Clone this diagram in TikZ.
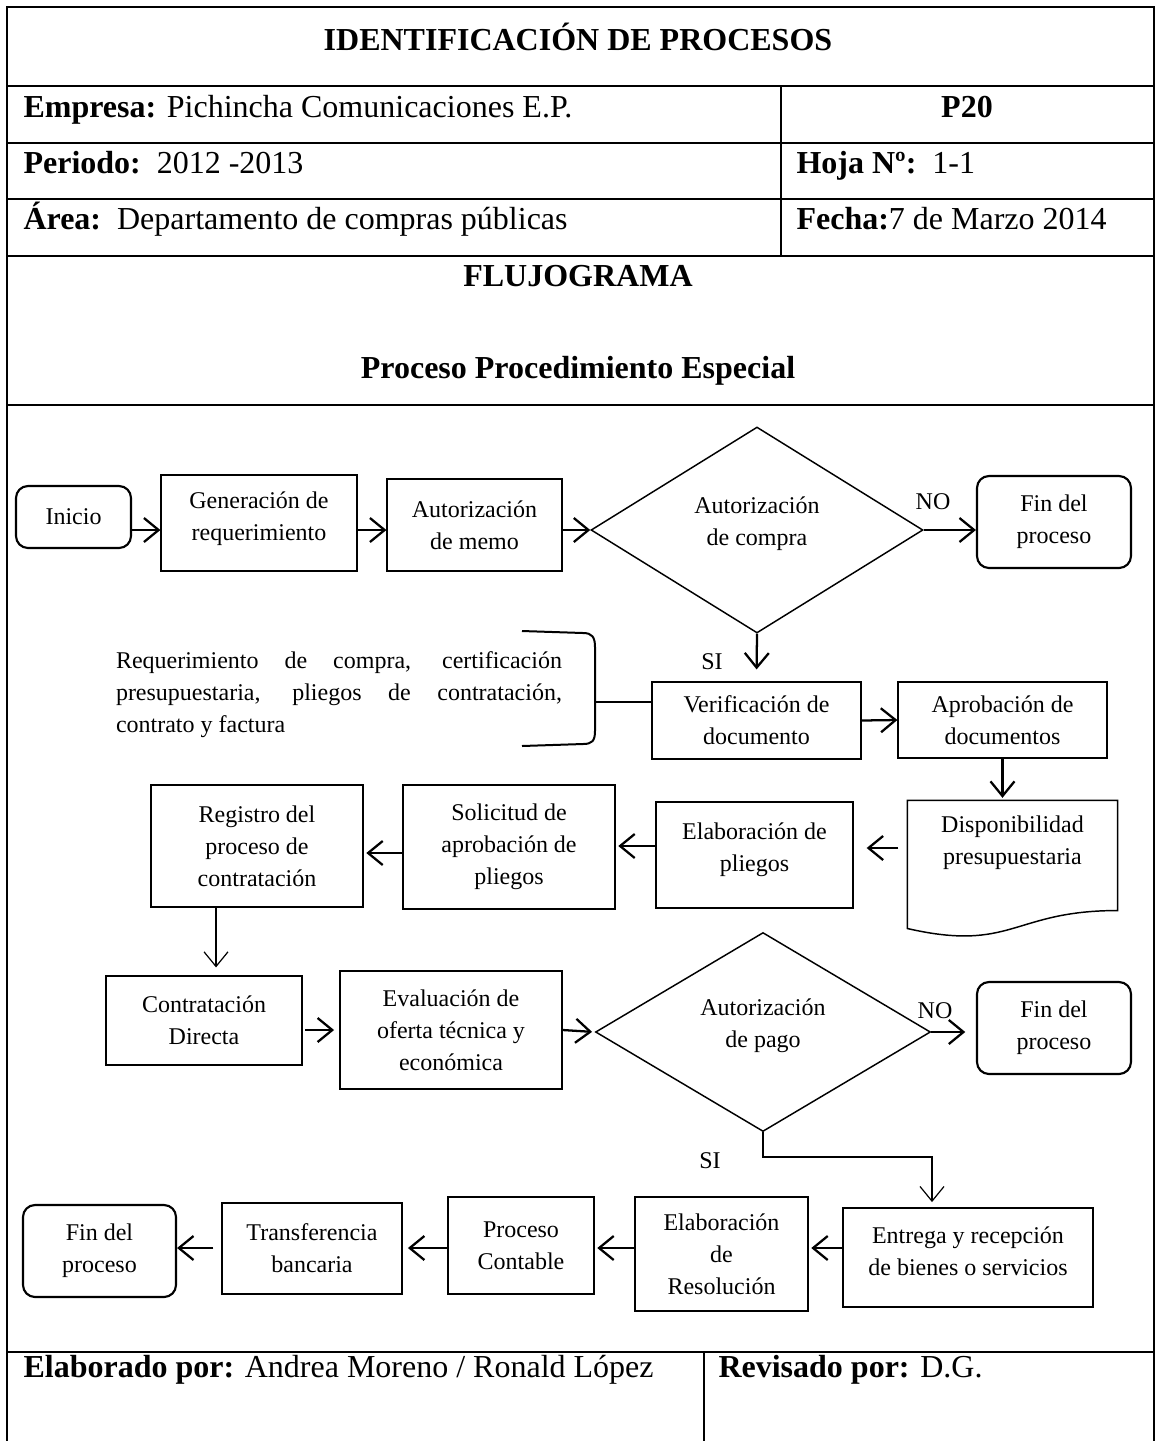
\documentclass[tikz,border=0pt]{standalone}
\usepackage{fontspec}
\setmainfont{Liberation Serif}
\usetikzlibrary{arrows.meta,shapes.geometric,calc}
\def\pxu{0.375pt} % one pixel of the sheet
\tikzset{
    sz/.style 2 args={minimum width={#1*\pxu}, minimum height={#2*\pxu}},
    proc/.style={draw, rectangle, inner sep=0pt, line width=0.45pt, align=center},
    term/.style={draw, rectangle, rounded corners=4.5pt, inner sep=0pt, line width=0.8pt, align=center},
    deci/.style={draw, diamond, inner sep=0pt, line width=0.55pt, align=center, text depth=7pt},
    arr/.style={line width=0.85pt, -{Straight Barb[length=5.5pt,width=9pt]}},
    thinarr/.style={line width=0.45pt, -{Straight Barb[length=5.5pt,width=9pt]}},
    frame/.style={line width=1.1pt},
    hd/.style={font=\fontsize{12}{14}\selectfont, inner sep=0pt}
}
\begin{document}
\begin{tikzpicture}[x=\pxu, y=-\pxu, font=\fontsize{9}{12}\selectfont]
\useasboundingbox (0,0) rectangle (1155,1441);

% table frame
\draw[frame] (7,1441) -- (7,7) -- (1154,7) -- (1154,1441);
\foreach \yy in {86,143,199,256,405,1352}{
    \draw[frame] (7,\yy) -- (1154,\yy);
    }
\draw[frame] (781,86) -- (781,256);
\draw[frame] (704,1352) -- (704,1441);

% header and footer texts
\node[hd, anchor=base] (titulo) at (578,50) {\textbf{IDENTIFICACIÓN DE PROCESOS}};
\node[hd, anchor=base west] (empresa) at (23,117) {\textbf{Empresa:} Pichincha Comunicaciones E.P.};
\node[hd, anchor=base] (codigo) at (967,117) {\textbf{P20}};
\node[hd, anchor=base west] (periodo) at (23,173) {\textbf{Periodo:}\ \ 2012 -2013};
\node[hd, anchor=base west] (hoja) at (796,173) {\textbf{Hoja Nº:}\ \ 1-1};
\node[hd, anchor=base west] (area) at (23,229) {\textbf{Área:}\ \ Departamento de compras públicas};
\node[hd, anchor=base west] (fecha) at (796,229) {\textbf{Fecha:}7 de Marzo 2014};
\node[hd, anchor=base] (flujo) at (578,286) {\textbf{FLUJOGRAMA}};
\node[hd, anchor=base] (proceso) at (578,378) {\textbf{Proceso Procedimiento Especial}};
\node[hd, anchor=base west] (elaborado) at (23,1377) {\textbf{Elaborado por:} Andrea Moreno / Ronald López};
\node[hd, anchor=base west] (revisado) at (718,1377) {\textbf{Revisado por:} D.G.};

% flow chart
\node[term, sz={115}{62}] (inicio) at (73.5,517) {Inicio};
\node[proc, sz={196}{96}, text depth=5pt] (gen) at (259,523) {Generación de\\requerimiento};
\node[proc, sz={175}{92}] (memo) at (474.5,525) {Autorización\\de memo};
\node[deci, sz={332}{206}] (dcompra) at (757,530) {Autorización\\de compra};
\node[term, sz={154}{92}] (fin1) at (1054,522) {Fin del\\proceso};
\node[proc, sz={209}{77}] (verif) at (756.5,720.5) {Verificación de\\documento};
\node[proc, sz={209}{76}] (aprob) at (1002.5,720) {Aprobación de\\documentos};
\node[inner sep=0pt, text width=167.25pt, align=justify] (docs) at (339,695)
    {\tolerance=9999 \hyphenpenalty=10000 Requerimiento de compra, certificación\linebreak
     presupuestaria,  pliegos de contratación,\linebreak contrato y factura};
\node[inner sep=0pt, sz={209}{84}, align=center] (dispo) at (1012.5,843) {Disponibilidad\\presupuestaria};
\node[proc, sz={197}{106}, text depth=6pt] (elab) at (754.5,855) {Elaboración de\\pliegos};
\node[proc, sz={212}{124}] (solic) at (509,847) {Solicitud de\\aprobación de\\pliegos};
\node[proc, sz={212}{122}] (reg) at (257,846) {Registro del\\proceso de\\contratación};
\node[proc, sz={196}{89}] (cdir) at (204,1020.5) {Contratación\\Directa};
\node[proc, sz={222}{118}] (eval) at (451,1030) {Evaluación de\\oferta técnica y\\económica};
\node[deci, sz={335}{199}] (dpago) at (763,1032) {Autorización\\de pago};
\node[term, sz={154}{92}] (fin2) at (1054,1028) {Fin del\\proceso};
\node[proc, sz={250}{99}, text depth=5pt] (entrega) at (968,1257.5) {Entrega y recepción\\de bienes o servicios};
\node[proc, sz={173}{114}] (eres) at (721.5,1254) {Elaboración\\de\\Resolución};
\node[proc, sz={146}{97}] (pcont) at (521,1245.5) {Proceso\\Contable};
\node[proc, sz={180}{91}] (transf) at (312,1248.5) {Transferencia\\bancaria};
\node[term, sz={153}{92}] (fin3) at (99.5,1251) {Fin del\\proceso};

\node (no1) at (933,502) {NO};
\node (si1) at (712,662) {SI};
\node (no2) at (935,1011) {NO};
\node (si2) at (710,1161) {SI};

% document shape and bracket
\draw[line width=0.55pt] (dispo.south west) -- (dispo.north west) -- (dispo.north east)
    -- ($(dispo.south east)+(0,25)$) .. controls ($(dispo.south)+(0,25)$) and ($(dispo.south)+(0,67)$) .. ($(dispo.south west)+(0,43)$) -- cycle;
\draw[line width=0.75pt] (522,631) -- (583,633) .. controls (592,633) and (595,637) .. (595,647)
    -- (595,731) .. controls (595,741) and (592,744) .. (583,744) -- (522,746);
\coordinate (tip) at (595,702);
\draw[line width=0.75pt] (tip) -- (tip -| verif.west);

% connectors
\coordinate (r1) at (0,530);
\coordinate (r3) at (0,848);
\coordinate (r4) at (0,846);
\coordinate (r4b) at (0,853);
\coordinate (r5) at (0,1248);
\coordinate (c1) at (216,0);
\coordinate (c2) at (932,1157);
\draw[arr] (inicio.east |- r1) -- (gen.west |- r1);
\draw[arr] (gen.east |- r1) -- (memo.west |- r1);
\draw[arr] (memo.east |- dcompra.west) -- (dcompra.west);
\draw[arr] (dcompra.east) -- (dcompra.east -| fin1.west);
\draw[arr, shorten >=4.5pt] (dcompra.south) -- (verif.north);
\draw[arr] (verif.east) -- (aprob.west);
\draw[arr, shorten >=1pt] (aprob.south) -- (aprob.south |- dispo.north);
\draw[arr, shorten <=3.4pt, shorten >=4.9pt] (dispo.west |- r3) -- (elab.east |- r3);
\draw[arr, shorten >=1pt] (elab.west |- r4) -- (solic.east |- r4);
\draw[arr, shorten >=1pt] (solic.west |- r4b) -- (reg.east |- r4b);
\draw[thinarr, shorten >=3pt] (reg.south -| c1) -- (cdir.north -| c1);
\draw[arr, shorten <=1pt, shorten >=2pt] (cdir.east |- eval.west) -- (eval.west);
\draw[arr, shorten >=1pt] (eval.east) -- (dpago.west);
\draw[arr, shorten >=4pt] (dpago.east) -- (dpago.east -| fin2.west);
\draw[thinarr, shorten >=2pt] (dpago.south) -- (dpago.south |- c2) -- (c2) -- (c2 |- entrega.north);
\draw[arr, shorten >=1pt] (entrega.west |- r5) -- (eres.east |- r5);
\draw[arr, shorten >=1pt] (eres.west |- r5) -- (pcont.east |- r5);
\draw[arr, shorten >=2pt] (pcont.west |- r5) -- (transf.east |- r5);
\draw[arr, shorten <=3pt] (transf.west |- r5) -- (fin3.east |- r5);
\end{tikzpicture}
\end{document}
